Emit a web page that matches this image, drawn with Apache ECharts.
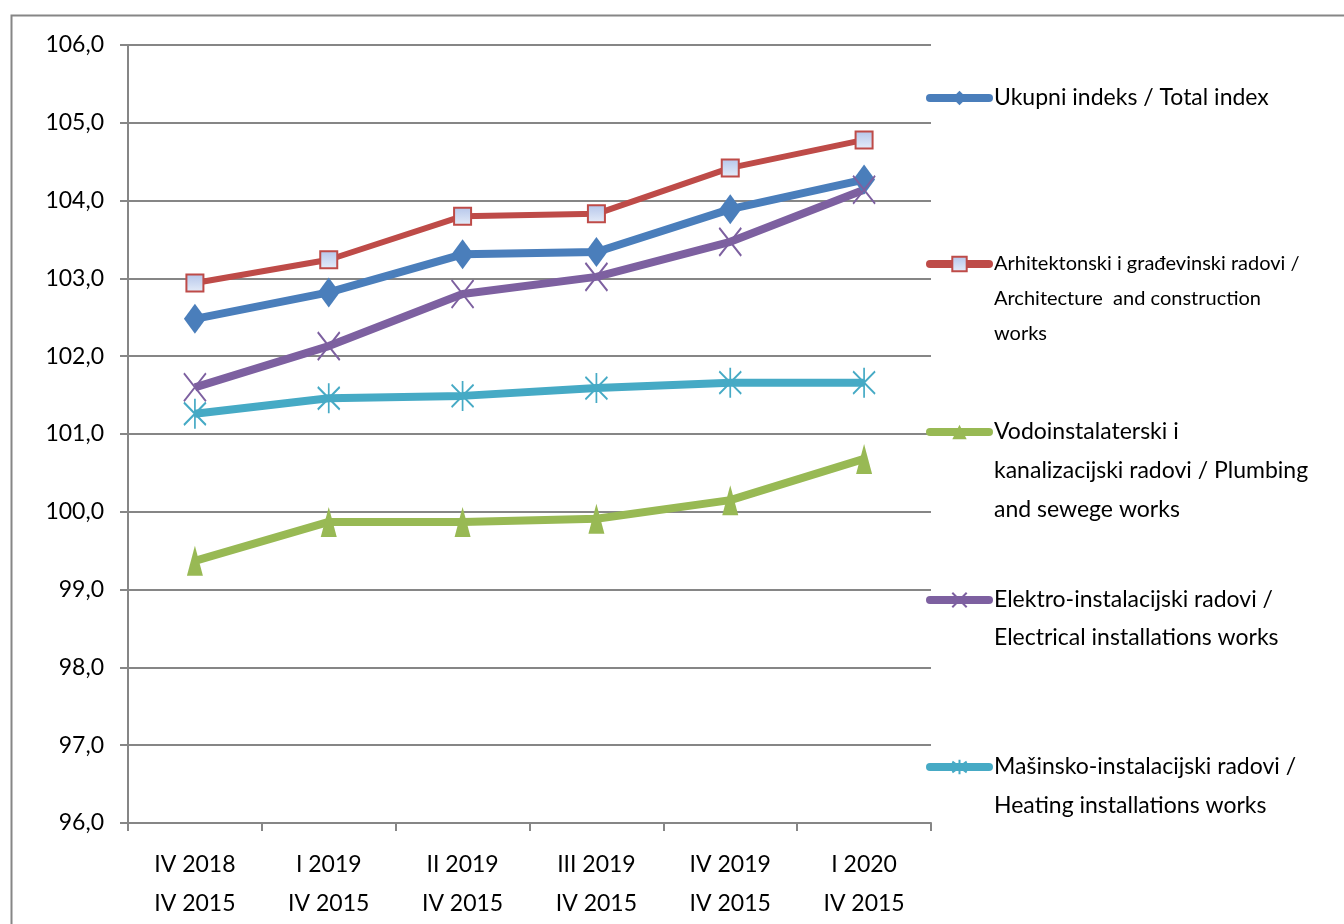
<!DOCTYPE html>
<html>
<head>
<meta charset="utf-8">
<script src="https://cdn.jsdelivr.net/npm/echarts@6/dist/echarts.min.js"></script>
<style>
html,body{margin:0;padding:0;background:#fff;}
#chart{width:1344px;height:924px;}
</style>
</head>
<body>
<div id="chart"></div>
<script>
const categories = ['IV 2018\nIV 2015','I 2019\nIV 2015','II 2019\nIV 2015','III 2019\nIV 2015','IV 2019\nIV 2015','I 2020\nIV 2015'];
const totalIndex   = [102.48, 102.82, 103.31, 103.34, 103.89, 104.27];
const architecture = [102.94, 103.24, 103.80, 103.83, 104.42, 104.78];
const plumbing     = [99.37, 99.87, 99.87, 99.91, 100.15, 100.68];
const electrical   = [101.60, 102.13, 102.80, 103.02, 103.47, 104.14];
const heating      = [101.26, 101.46, 101.49, 101.59, 101.66, 101.66];
const yTicks = {min: 96, max: 106, interval: 1};

const names = [
  'Ukupni indeks / Total index',
  'Arhitektonski i građevinski radovi /\nArchitecture  and construction\nworks',
  'Vodoinstalaterski i\nkanalizacijski radovi / Plumbing\nand sewege works',
  'Elektro-instalacijski radovi /\nElectrical installations works',
  'Mašinsko-instalacijski radovi /\nHeating installations works'
];

const FONT = 'Lato, "Open Sans", sans-serif';
const chart = echarts.init(document.getElementById('chart'));

const legendSpec = [
  {cy: 98, lh: 36, fs: 23},
  {cy: 264, lh: 35, fs: 20},
  {cy: 432, lh: 39, fs: 23},
  {cy: 600, lh: 38, fs: 23},
  {cy: 767, lh: 39, fs: 23}
];

const legends = names.map((nm, i) => {
  const lines = nm.split('\n');
  const n = lines.length;
  const s = legendSpec[i];
  const blockH = (2 * n - 1) * s.lh;
  return {
    data: [nm],
    left: 926,
    top: s.cy - blockH / 2,
    padding: 0,
    itemWidth: 59,
    itemHeight: 18,
    itemGap: 0,
    selectedMode: false,
    lineStyle: {width: 8, cap: 'round'},
    formatter: function (name) {
      const ls = name.split('\n');
      const pad = new Array(ls.length - 1).fill(' ');
      return pad.concat(ls).join('\n');
    },
    textStyle: {fontFamily: FONT, fontSize: s.fs, color: '#000', lineHeight: s.lh}
  };
});

const xPath = 'path://M0,0 L10,12 M10,0 L0,12';
const starPath = 'path://M5,0 L5,12 M0,1.5 L10,10.5 M0,10.5 L10,1.5';

chart.setOption({
  animation: false,
  backgroundColor: '#fff',
  graphic: [{
    type: 'rect', left: 9, top: 13, z: -1,
    shape: {width: 1340, height: 930},
    style: {fill: 'none', stroke: '#868686', lineWidth: 2}
  }],
  legend: legends,
  grid: {left: 128, right: 413, top: 45, bottom: 101, containLabel: false},
  xAxis: {
    type: 'category',
    data: categories,
    boundaryGap: true,
    axisLine: {lineStyle: {color: '#868686', width: 2}},
    axisTick: {show: true, length: 8, lineStyle: {color: '#868686', width: 2}},
    axisLabel: {fontFamily: FONT, fontSize: 23, color: '#000', lineHeight: 39, margin: 22}
  },
  yAxis: {
    type: 'value',
    min: yTicks.min, max: yTicks.max, interval: yTicks.interval,
    axisLine: {show: true, lineStyle: {color: '#868686', width: 2}},
    axisTick: {show: true, length: 8, lineStyle: {color: '#868686', width: 2}},
    splitLine: {lineStyle: {color: '#868686', width: 2}},
    axisLabel: {fontFamily: FONT, fontSize: 23, color: '#000', margin: 24,
      formatter: v => v.toFixed(1).replace('.', ',')}
  },
  series: [
    {
      name: names[0], type: 'line', data: totalIndex,
      symbol: 'diamond', symbolSize: [22, 30],
      lineStyle: {color: '#4a7ebb', width: 8},
      itemStyle: {color: '#4a7ebb'}
    },
    {
      name: names[1], type: 'line', data: architecture,
      symbol: 'rect', symbolSize: 17,
      lineStyle: {color: '#be4b48', width: 6},
      itemStyle: {
        color: {type: 'linear', x: 0, y: 0, x2: 0, y2: 1,
          colorStops: [{offset: 0, color: '#b4c5ea'}, {offset: 1, color: '#e6edf9'}]},
        borderColor: '#be4b48', borderWidth: 2
      }
    },
    {
      name: names[2], type: 'line', data: plumbing,
      symbol: 'triangle', symbolSize: [16, 30],
      lineStyle: {color: '#98b954', width: 8},
      itemStyle: {color: '#98b954'}
    },
    {
      name: names[3], type: 'line', data: electrical,
      symbol: xPath, symbolSize: [22, 28],
      lineStyle: {color: '#7d60a0', width: 8},
      itemStyle: {color: 'rgba(0,0,0,0)', borderColor: '#7d60a0', borderWidth: 2}
    },
    {
      name: names[4], type: 'line', data: heating,
      symbol: starPath, symbolSize: [22, 30],
      lineStyle: {color: '#46aac5', width: 8},
      itemStyle: {color: 'rgba(0,0,0,0)', borderColor: '#46aac5', borderWidth: 2}
    }
  ]
});
</script>
</body>
</html>
